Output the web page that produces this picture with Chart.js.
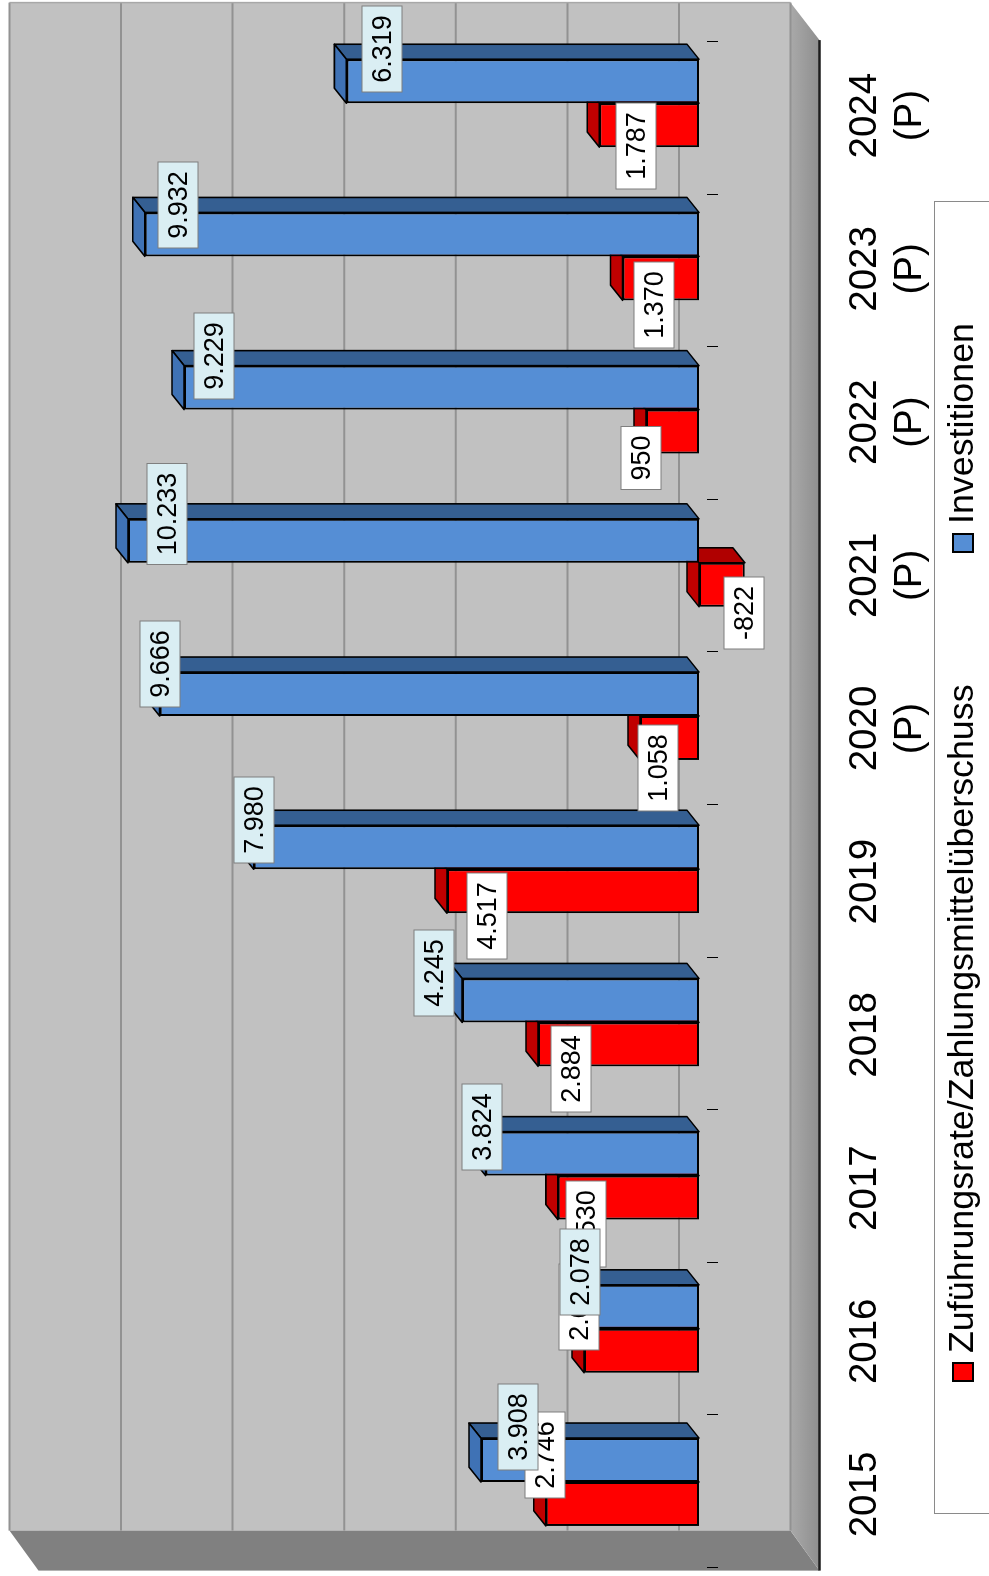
<!DOCTYPE html>
<html>
<head>
<meta charset="utf-8">
<title>Zuführungsrate und Investitionen</title>
<script src="https://cdn.jsdelivr.net/npm/chart.js@4"></script>
<style>
    html, body { margin: 0; background: #fff; overflow: hidden; width: 989px; height: 1576px; }
    /* the whole chart lies on its side: 1576 wide, turned a quarter left */
    #turned { position: absolute; left: 0; top: 0; width: 1576px; height: 989px;
              transform-origin: 0 0; transform: translateY(1576px) rotate(-90deg); }
    canvas { display: block; }
</style>
</head>
<body>
<div id="turned"><canvas id="graphique" width="1576" height="989"></canvas></div>
<script>
const categories = ['2015', '2016', '2017', '2018', '2019', ['2020', '(P)'], ['2021', '(P)'], ['2022', '(P)'], ['2023', '(P)'], ['2024', '(P)']]
const zufuehrung = [2746, 2060, 2530, 2884, 4517, 1058, -822, 950, 1370, 1787]
const investitionen = [3908, 2078, 3824, 4245, 7980, 9666, 10233, 9229, 9932, 6319]
const legendNames = ['Zuführungsrate/Zahlungsmittelüberschuss', 'Investitionen']

// where each value box sits relative to the bar end: [along the value axis, along the categories]
const zufuehrungBoxShift = [[-1, 49], [-5, 44], [28, -26], [33, -25], [40, -25], [18, -30], [-1, -28], [-5, -26], [31, -27], [37, -21]]
const investitionenBoxShift = [[37, 33], [-3, 35], [-4, 27], [-28, 27], [0, 27], [0, 30], [39, 27], [30, 32], [33, 29], [36, 32]]

const FONT = '"Liberation Sans", Arial, sans-serif'
const COLORS = [
    { front: '#ff0000', top: '#c00000', side: '#b00000', box: '#ffffff' },
    { front: '#558ed5', top: '#3f72b5', side: '#355f92', box: '#daeef3' }
]

function polygon(ctx, points, fill, stroke) {
    ctx.beginPath()
    points.forEach((p, i) => i ? ctx.lineTo(p[0], p[1]) : ctx.moveTo(p[0], p[1]))
    ctx.closePath()
    ctx.fillStyle = fill
    ctx.fill()
    if (stroke) {
        ctx.lineWidth = 1.6
        ctx.strokeStyle = stroke
        ctx.lineJoin = 'round'
        ctx.stroke()
    }
}

const wallsPlugin = {
    id: 'walls',
    beforeDraw(chart) {
        const ctx = chart.ctx
        const a = chart.chartArea
        const yScale = chart.scales.y
        const vTop = yScale.getPixelForValue(12000) - 20
        const vBottom = yScale.getPixelForValue(-2000) - 20
        const backLeft = a.left + 28
        const backRight = a.right + 24
        const frontLeft = a.left - 12
        const frontRight = a.right - 13.5
        const depth = 29

        ctx.save()
        ctx.fillStyle = '#c1c1c1'
        ctx.fillRect(backLeft, vTop, backRight - backLeft, vBottom - vTop)

        polygon(ctx, [[backLeft, vTop], [backLeft, vBottom], [frontLeft, vBottom + depth], [frontLeft, vTop + depth]], '#808080')

        const floor = ctx.createLinearGradient(0, vBottom, 0, vBottom + depth)
        floor.addColorStop(0, '#a9a9a9')
        floor.addColorStop(1, '#8e8e8e')
        polygon(ctx, [[backLeft, vBottom], [backRight, vBottom], [frontRight, vBottom + depth], [frontLeft, vBottom + depth]], floor)

        ctx.strokeStyle = '#1c1c1c'
        ctx.lineWidth = 2.5
        ctx.beginPath()
        ctx.moveTo(frontLeft, vBottom + depth)
        ctx.lineTo(frontRight, vBottom + depth)
        ctx.stroke()

        ctx.strokeStyle = '#929292'
        ctx.lineWidth = 2
        yScale.ticks.forEach(t => {
            const v = yScale.getPixelForValue(t.value) - 20
            ctx.beginPath()
            ctx.moveTo(backLeft, v)
            ctx.lineTo(backRight, v)
            ctx.stroke()
        })
        ctx.lineWidth = 1.5
        ctx.strokeStyle = '#a8a8a8'
        ctx.beginPath()
        ctx.moveTo(backRight, vTop)
        ctx.lineTo(backRight, vBottom)
        ctx.stroke()
        ctx.restore()
    },
    beforeDatasetsDraw(chart) {
        const ctx = chart.ctx
        const xScale = chart.scales.x
        const zero = chart.scales.y.getPixelForValue(0)
        const band = xScale.getPixelForValue(1) - xScale.getPixelForValue(0)

        // small ticks on the zero line, between the categories
        ctx.save()
        ctx.strokeStyle = '#000'
        ctx.lineWidth = 1
        for (let i = 0; i <= categories.length; i++) {
            const edge = xScale.getPixelForValue(0) - band / 2 + i * band
            const u = Math.round((edge - 9.4 - i * 0.6)) + 0.5
            ctx.beginPath()
            ctx.moveTo(u, zero + 8)
            ctx.lineTo(u, zero + 19)
            ctx.stroke()
        }

        // sides of the bars, behind every front face
        const dv = 12
        const du = 15
        chart.data.datasets.forEach((ds, d) => {
            chart.getDatasetMeta(d).data.forEach(bar => {
                const u0 = bar.x - bar.width / 2
                const u1 = bar.x + bar.width / 2
                const vMin = Math.min(bar.y, bar.base)
                const vMax = Math.max(bar.y, bar.base)
                polygon(ctx, [[u1, vMin], [u1, vMax], [u1 + du, vMax - dv], [u1 + du, vMin - dv]], COLORS[d].side, '#000')
                polygon(ctx, [[u0, vMin], [u1, vMin], [u1 + du, vMin - dv], [u0 + du, vMin - dv]], COLORS[d].top, '#000')
            })
        })
        ctx.restore()
    }
}

const valueBoxPlugin = {
    id: 'valueBoxes',
    afterDatasetsDraw(chart) {
        const ctx = chart.ctx
        const shifts = [zufuehrungBoxShift, investitionenBoxShift]
        ctx.save()
        ctx.font = '27px ' + FONT
        ctx.textAlign = 'center'
        ctx.textBaseline = 'middle'
        chart.data.datasets.forEach((ds, d) => {
            chart.getDatasetMeta(d).data.forEach((bar, i) => {
                const text = String(ds.data[i]).replace(/\B(?=(\d{3})+(?!\d))/g, '.')
                const w = Math.round(ctx.measureText(text).width) + 18
                const u = Math.round(bar.x + shifts[d][i][1])
                const v = Math.round(bar.y + shifts[d][i][0])
                ctx.fillStyle = COLORS[d].box
                ctx.fillRect(u - w / 2, v - 20, w, 40)
                ctx.strokeStyle = '#7f7f7f'
                ctx.lineWidth = 1
                ctx.strokeRect(u - w / 2, v - 20, w, 40)
                ctx.fillStyle = '#000'
                ctx.fillText(text, u, v + 2)
            })
        })
        ctx.restore()
    }
}

const legendPlugin = {
    id: 'legendBox',
    afterDraw(chart) {
        const ctx = chart.ctx
        const starts = [195, 1024]
        ctx.save()
        ctx.fillStyle = '#fff'
        ctx.fillRect(62.5, 934.5, 1312, 80)
        ctx.strokeStyle = '#8a8a8a'
        ctx.lineWidth = 1
        ctx.strokeRect(62.5, 934.5, 1312, 80)
        ctx.font = '35.8px ' + FONT
        ctx.textBaseline = 'alphabetic'
        ctx.textAlign = 'left'
        legendNames.forEach((name, i) => {
            ctx.fillStyle = COLORS[i].front
            ctx.fillRect(starts[i], 953, 18, 20)
            ctx.strokeStyle = '#000'
            ctx.lineWidth = 2
            ctx.strokeRect(starts[i], 953, 18, 20)
            ctx.fillStyle = '#000'
            ctx.fillText(name, starts[i] + 28, 973)
        })
        ctx.restore()
    }
}

const config = {
    type: 'bar',
    data: {
        labels: categories,
        datasets: [{
            label: legendNames[0],
            data: zufuehrung,
            backgroundColor: COLORS[0].front,
            borderColor: '#000',
            borderWidth: 2,
            borderSkipped: false
        }, {
            label: legendNames[1],
            data: investitionen,
            backgroundColor: COLORS[1].front,
            borderColor: '#000',
            borderWidth: 2,
            borderSkipped: false
        }]
    },
    options: {
        responsive: false,
        animation: false,
        devicePixelRatio: 1,
        categoryPercentage: 0.574,
        barPercentage: 1,
        layout: { padding: { left: 17.4, right: 26.6, top: 29.4, bottom: 0 } },
        plugins: { legend: { display: false }, title: { display: false }, tooltip: { enabled: false } },
        scales: {
            x: {
                grid: { display: false, drawTicks: false },
                border: { display: false },
                afterFit(scale) { scale.height = 178.4 },
                ticks: {
                    color: '#000',
                    font: { family: FONT, size: 38.5, lineHeight: 1.17 },
                    padding: 32,
                    labelOffset: -12.5,
                    maxRotation: 0,
                    minRotation: 0,
                    autoSkip: false
                }
            },
            y: {
                display: false,
                min: -2000,
                max: 12000,
                ticks: { stepSize: 2000 }
            }
        }
    },
    plugins: [wallsPlugin, valueBoxPlugin, legendPlugin]
}

const chart = new Chart(document.querySelector('#graphique'), config)
</script>
</body>
</html>
